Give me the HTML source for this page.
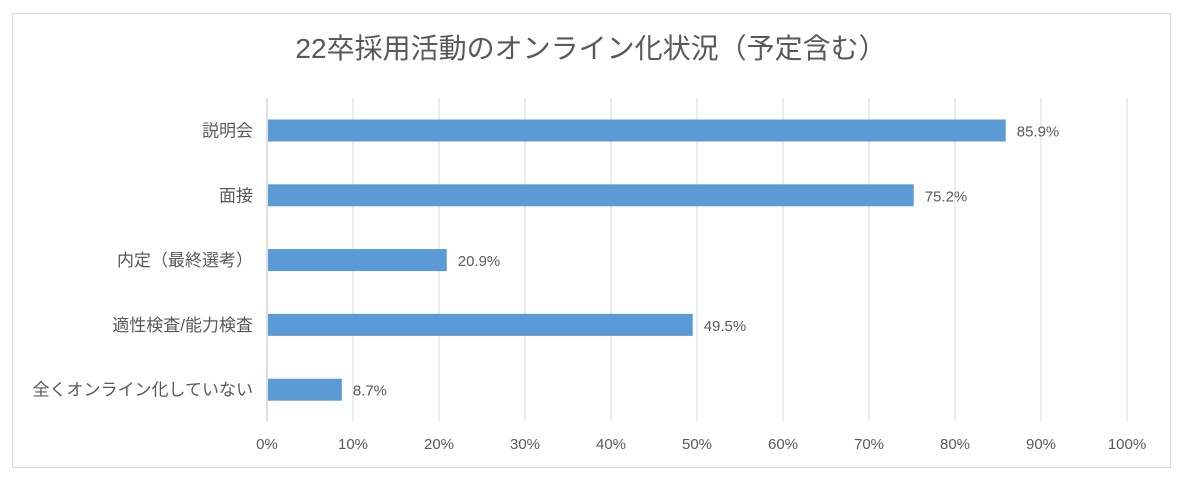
<!DOCTYPE html>
<html><head><meta charset="utf-8">
<style>
body{margin:0;background:#fff;}
svg text{font-family:"Liberation Sans","Noto Sans CJK JP",sans-serif;fill:#595959;}
</style></head>
<body>
<svg id="c" width="1200" height="482">
<rect x="12.5" y="13.5" width="1158" height="454" fill="#fff" stroke="#d9d9d9"/>
<text x="591" y="58" text-anchor="middle" font-size="28">22卒採用活動のオンライン化状況（予定含む）</text>
<g id="g"></g><g id="b"></g>
</svg>
<script>
const categories=["説明会","面接","内定（最終選考）","適性検査/能力検査","全くオンライン化していない"];
const values=[85.9,75.2,20.9,49.5,8.7];
const valueLabels=["85.9%","75.2%","20.9%","49.5%","8.7%"];
const ticks=[0,10,20,30,40,50,60,70,80,90,100];
const tickLabels=["0%","10%","20%","30%","40%","50%","60%","70%","80%","90%","100%"];
const NS="http://www.w3.org/2000/svg";
const x=v=>267+v*8.6;
const y=i=>130.5+i*64.8;
const g=document.getElementById('g'),b=document.getElementById('b');
function mk(t,a,p){const e=document.createElementNS(NS,t);for(const k in a)e.setAttribute(k,a[k]);p.appendChild(e);return e;}
ticks.forEach((t,i)=>{
 const l=mk('line',{x1:x(t),x2:x(t),y1:98,y2:421,stroke:t===0?'#bfbfbf':'#d9d9d9','stroke-width':1},g);
 
 
 const tx=mk('text',{x:x(t),y:449,'text-anchor':'middle','font-size':15},g);
 tx.textContent=tickLabels[i];
 
 
});
categories.forEach((c,i)=>{
 const r=mk('rect',{x:x(0)+1,y:y(i)-11,width:x(values[i])-x(0)-1,height:22,fill:'#5b9bd5'},b);
 
 
 const lb=mk('text',{x:x(0)-14,y:y(i)+6,'text-anchor':'end','font-size':17},b);
 lb.textContent=c;
 
 
 const vl=mk('text',{x:x(values[i])+11,y:y(i)+6,'font-size':15},b);
 vl.textContent=valueLabels[i];
 
 
});
</script>
</body></html>
